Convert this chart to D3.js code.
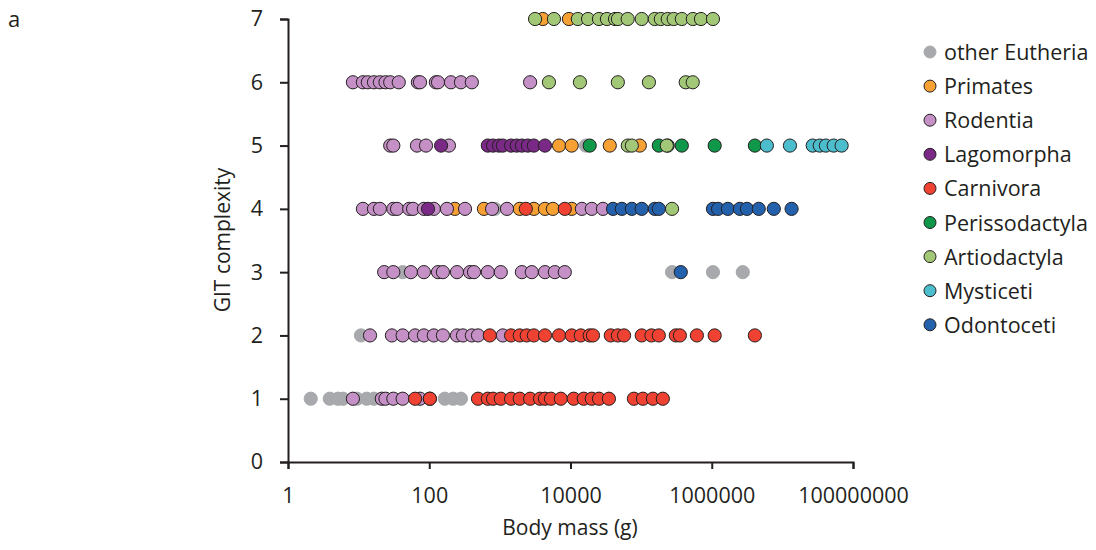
<!DOCTYPE html>
<html><head><meta charset="utf-8">
<script src="https://cdn.jsdelivr.net/npm/d3@7"></script>
<style>body{margin:0;background:#fff;} text{font-family:"Open Sans",sans-serif;fill:#231f20;}</style>
</head><body><svg id="c" width="1096" height="550"></svg>
<script>
// categories (legend order = draw order)
const categories = ["other Eutheria","Primates","Rodentia","Lagomorpha","Carnivora","Perissodactyla","Artiodactyla","Mysticeti","Odontoceti"];
const colors = ["#a7a9ac","#f7a033","#c490c6","#7a2a86","#ef4232","#10984a","#a2c777","#4cbdcd","#2361ad"];
const xTicks = [1,100,10000,1000000,100000000];
const yTicks = [0,1,2,3,4,5,6,7];

// [body mass (g), GIT complexity]
const otherEutheria = [[2.1,1],[3.9,1],[5.1,1],[6,1],[9.5,1],[13,1],[16.5,1],[166,1],[218,1],[281,1],
  [10.8,2],[42,3],[274000,3],[1040000,3],[2750000,3],[850,4],[16500,5]];
const primates = [[230,4],[595,4],[1910,4],[3030,4],[4350,4],[5630,4],[10400,4],
  [6880,5],[10400,5],[36000,5],[95800,5],[4050,7],[9500,7]];
const rodentia = [[8.3,1],[21.3,1],[24,1],[31,1],[42,1],[74,1],[102,1],
  [14.5,2],[29.6,2],[42,2],[63,2],[84,2],[116,2],[156,2],[247,2],[300,2],[401,2],[490,2],[1100,2],
  [23,3],[31,3],[55,3],[84,3],[133,3],[156,3],[247,3],[378,3],[430,3],[675,3],[1030,3],[2050,3],[2830,3],[4350,3],[6000,3],[8300,3],
  [11.5,4],[16.5,4],[20,4],[31,4],[35,4],[52,4],[59,4],[84,4],[116,4],[178,4],[321,4],[775,4],[1260,4],[14500,4],[20000,4],[28800,4],
  [28,5],[31,5],[67,5],[90,5],[190,5],
  [8.3,6],[11.5,6],[13.5,6],[16.5,6],[20,6],[24,6],[28,6],[37,6],[69,6],[74,6],[124,6],[133,6],[203,6],[281,6],[401,6],[2680,6]];
const lagomorpha = [[96,4],[147,5],[675,5],[800,5],[970,5],[1100,5],[1440,5],[1730,5],[2050,5],[2490,5],[3030,5],[4350,5]];
const carnivora = [[63,1],[102,1],[490,1],[675,1],[800,1],[1030,1],[1440,1],[1910,1],[2680,1],[3700,1],[4350,1],[5280,1],[7300,1],[11100,1],[15400,1],[20000,1],[25300,1],[35000,1],[79000,1],[106000,1],[147000,1],[203000,1],
  [720,2],[1440,2],[1910,2],[2400,2],[3030,2],[4350,2],[6880,2],[10400,2],[14000,2],[18700,2],[20800,2],[37200,2],[46800,2],[57300,2],[102000,2],[140000,2],[178000,2],[310000,2],[354000,2],[616000,2],[1100000,2],[4080000,2],
  [2330,4],[8300,4]];
const perissodactyla = [[18700,5],[178000,5],[238000,5],[377000,5],[1100000,5],[4080000,5]];
const artiodactyla = [[274000,4],[64800,5],[73900,5],[231000,5],
  [4950,6],[13600,6],[46800,6],[129000,6],[428000,6],[538000,6],
  [3150,7],[5830,7],[12700,7],[17700,7],[25300,7],[32800,7],[42700,7],[46900,7],[64500,7],[102000,7],[156000,7],[190000,7],[238000,7],[289000,7],[377000,7],[540000,7],[704000,7],[1040000,7]];
const mysticeti = [[6030000,5],[12800000,5],[26900000,5],[33800000,5],[41300000,5],[53300000,5],[69000000,5]];
const odontoceti = [[364000,3],[40000,4],[53300,4],[73900,4],[102000,4],[156000,4],[178000,4],[1040000,4],[1230000,4],[1690000,4],[2500000,4],[3150000,4],[4630000,4],[7560000,4],[13500000,4]];

const seriesData = [otherEutheria,primates,rodentia,lagomorpha,carnivora,perissodactyla,artiodactyla,mysticeti,odontoceti];

const svg = d3.select("#c");
const x = d3.scaleLog().domain([1,1e8]).range([288,853]);
const y = d3.scaleLinear().domain([0,7]).range([462,19]);

svg.append("text").attr("x",8).attr("y",27).style("font-size","22px").text("a");

// axes
const xa = svg.append("g").attr("transform","translate(0,462)")
  .call(d3.axisBottom(x).tickValues(xTicks).tickFormat(d3.format("d")).tickSizeOuter(0).tickSize(7).tickPadding(19));
const ya = svg.append("g").attr("transform","translate(288,0)")
  .call(d3.axisLeft(y).tickValues(yTicks).tickFormat(d3.format("d")).tickSizeOuter(0).tickSize(8).tickPadding(17));
[xa,ya].forEach(g=>{
  g.select(".domain").attr("stroke","#231f20").attr("stroke-width",2);
  g.selectAll(".tick line").attr("stroke","#231f20").attr("stroke-width",2);
  g.selectAll(".tick text").style("font-size","21.5px").style("font-family","'Open Sans',sans-serif").attr("fill","#231f20");
});

svg.append("text").attr("x",570).attr("y",535).attr("text-anchor","middle").style("font-size","21px").text("Body mass (g)");
svg.append("text").attr("transform","translate(230,240) rotate(-90)").attr("text-anchor","middle").style("font-size","21px").text("GIT complexity");

// points
seriesData.forEach((arr,i)=>{
  svg.append("g").selectAll("circle").data(arr).join("circle")
    .attr("cx",d=>x(d[0])).attr("cy",d=>y(d[1])).attr("r",6.6)
    .attr("fill",colors[i])
    .attr("stroke", i===0 ? "#a7a9ac" : "#231f20").attr("stroke-width",1);
});

// legend
const lg = svg.append("g");
categories.forEach((c,i)=>{
  const yy = 52 + i*34.1;
  lg.append("circle").attr("cx",930).attr("cy",yy).attr("r",6)
    .attr("fill",colors[i]).attr("stroke", i===0 ? "#a7a9ac" : "#231f20").attr("stroke-width",1);
  lg.append("text").attr("x",944).attr("y",yy+8).style("font-size","21.5px").text(c);
});
</script></body></html>
